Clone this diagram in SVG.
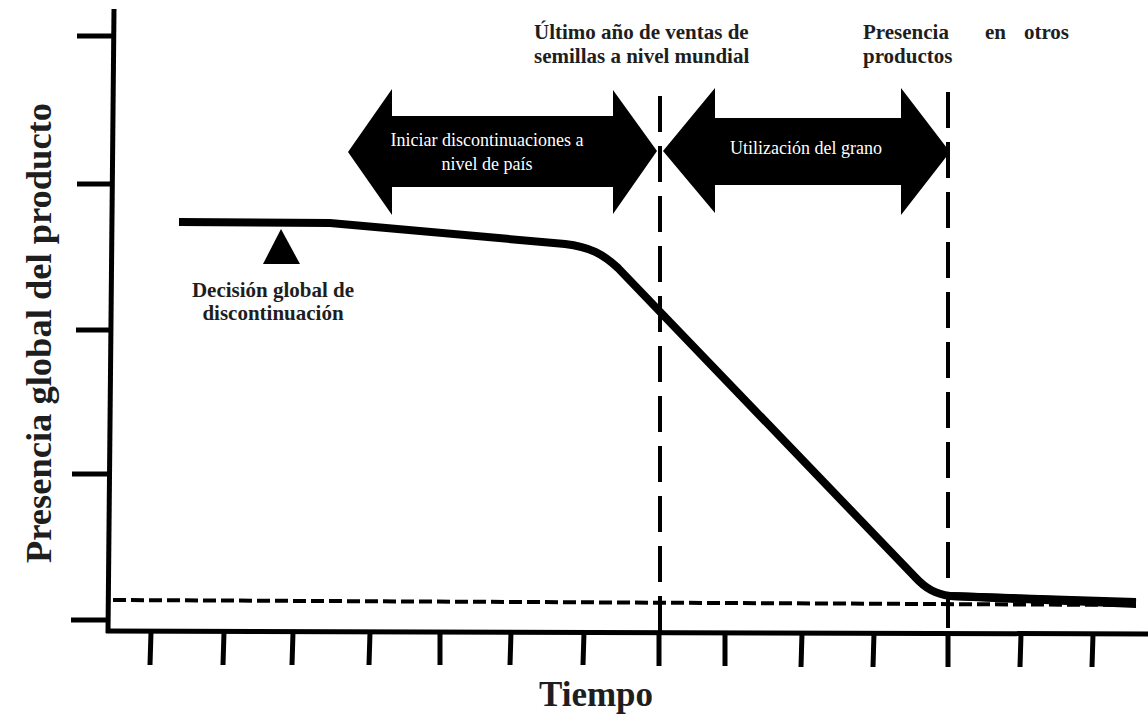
<svg xmlns="http://www.w3.org/2000/svg" width="1148" height="716" viewBox="0 0 1148 716">
<style>
.ax{stroke:#000;stroke-width:5;fill:none;stroke-linecap:butt}
.dv{stroke:#000;stroke-width:4;fill:none;stroke-dasharray:36 14}
.dh{stroke:#000;stroke-width:4;fill:none;stroke-dasharray:13 5}
.lb{font-family:"Liberation Serif","Times New Roman",serif;font-weight:bold;fill:#1e1e1e}
.wt{font-family:"Liberation Serif","Times New Roman",serif;fill:#fff;font-size:18px}
</style>
<rect width="1148" height="716" fill="#fff"/>
<g id="axes">
<line class="ax" x1="114" y1="9" x2="108" y2="633"/>
<line class="ax" x1="106" y1="631" x2="1148" y2="634"/>
<line class="ax" x1="77" y1="36" x2="113" y2="36"/>
<line class="ax" x1="77" y1="184" x2="112" y2="184"/>
<line class="ax" x1="76" y1="330" x2="111" y2="330"/>
<line class="ax" x1="72" y1="474" x2="109" y2="474"/>
<line class="ax" x1="71" y1="620" x2="108" y2="620"/>
<g id="xticks">
<line class="ax" x1="151" y1="632" x2="150" y2="665"/>
<line class="ax" x1="224" y1="632" x2="223" y2="665"/>
<line class="ax" x1="293" y1="632" x2="292" y2="665"/>
<line class="ax" x1="370" y1="632" x2="369" y2="665"/>
<line class="ax" x1="440" y1="632" x2="440" y2="665"/>
<line class="ax" x1="511" y1="632" x2="510" y2="665"/>
<line class="ax" x1="584" y1="632" x2="583" y2="665"/>
<line class="ax" x1="659" y1="632" x2="659" y2="666"/>
<line class="ax" x1="725" y1="633" x2="725" y2="666"/>
<line class="ax" x1="802" y1="633" x2="801" y2="667"/>
<line class="ax" x1="874" y1="633" x2="873" y2="667"/>
<line class="ax" x1="948" y1="633" x2="948" y2="667"/>
<line class="ax" x1="1021" y1="634" x2="1020" y2="667"/>
<line class="ax" x1="1093" y1="634" x2="1092" y2="667"/>
</g>
</g>
<g id="guides">
<line class="dv" x1="660" y1="96" x2="660" y2="632"/>
<line class="dv" x1="948" y1="92" x2="948" y2="632"/>
<line class="dh" x1="113" y1="600" x2="1132" y2="605"/>
</g>
<g id="curve">
<path d="M179,222 L330,223 L565,244 C590,247 603,254 618,268 L915,577 C926,589 936,594 950,596 L1136,603" fill="none" stroke="#000" stroke-width="8"/>
<polygon points="950,592 1136,598 1136,608 950,600" fill="#000"/>
</g>
<g id="decision">
<polygon points="281,229 300,264 263,264" fill="#000"/>
<text class="lb" font-size="21" text-anchor="middle"><tspan x="273" y="297">Decisión global de</tspan><tspan x="273" y="320">discontinuación</tspan></text>
</g>
<g id="arrow-country">
<polygon points="348,152 392,89 392,116 613,116 613,90 657,151 613,214 613,187 392,187 392,215" fill="#000"/>
<text class="wt" text-anchor="middle"><tspan x="487" y="146">Iniciar discontinuaciones a</tspan><tspan x="487" y="170">nivel de país</tspan></text>
</g>
<g id="arrow-grain">
<polygon points="663,151 715,88 715,118 901,118 901,88 950,152 901,215 901,185 715,185 715,213" fill="#000"/>
<text class="wt" text-anchor="middle" x="806" y="154">Utilización del grano</text>
</g>
<g id="label-last-year">
<text class="lb" font-size="21"><tspan x="534" y="39">Último año de ventas de</tspan><tspan x="534" y="63">semillas a nivel mundial</tspan></text>
</g>
<g id="label-other-products">
<text class="lb" font-size="21"><tspan x="863" y="39">Presencia</tspan><tspan x="985" y="39">en</tspan><tspan x="1069" y="39" text-anchor="end">otros</tspan><tspan x="863" y="63">productos</tspan></text>
</g>
<g id="axis-labels">
<text class="lb" font-size="36.5" text-anchor="middle" transform="translate(51,333) rotate(-90)">Presencia global del producto</text>
<text class="lb" font-size="35" text-anchor="middle" x="596" y="706">Tiempo</text>
</g>
</svg>
